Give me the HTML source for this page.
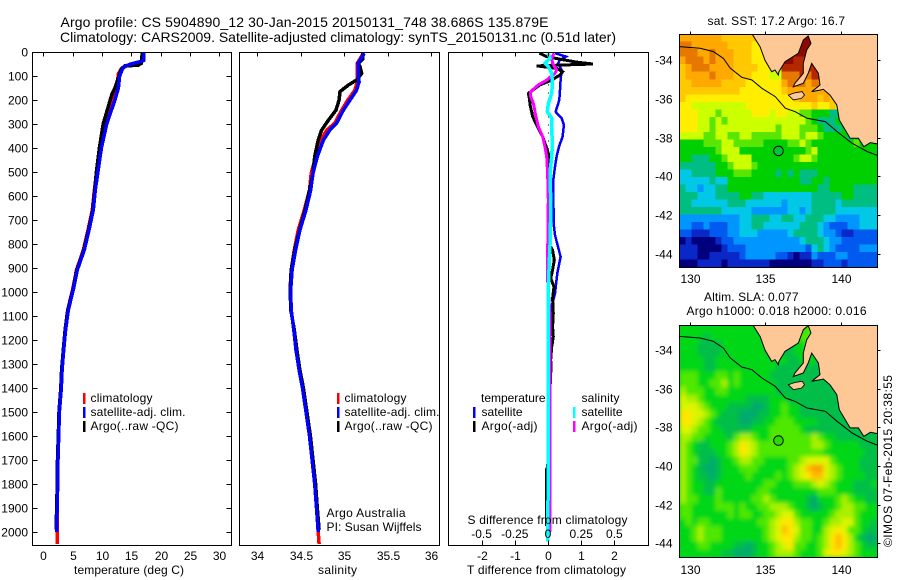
<!DOCTYPE html>
<html>
<head>
<meta charset="utf-8">
<title>Argo profile</title>
<style>
html,body{margin:0;padding:0;background:#fff;width:900px;height:580px;overflow:hidden}
svg{display:block}
text{font-family:"Liberation Sans",sans-serif;font-size:12px;fill:#000}
.title{font-size:14px}
.ln{fill:none;shape-rendering:crispEdges;stroke-linejoin:miter}
.ax{stroke:#000;stroke-width:1;shape-rendering:crispEdges;fill:none}
</style>
</head>
<body>
<svg id="fig" xmlns="http://www.w3.org/2000/svg" width="900" height="580" viewBox="0 0 900 580">
<defs>
<filter id="slaBlur" x="-5%" y="-5%" width="110%" height="110%"><feGaussianBlur stdDeviation="2.1"/></filter>
<clipPath id="clipMap1"><rect x="679.5" y="34.5" width="198" height="233"/></clipPath>
<clipPath id="clipMap2"><rect x="679.5" y="325.5" width="198" height="232"/></clipPath>
</defs>
<text class="title" x="60.5" y="27" textLength="488" lengthAdjust="spacing">Argo profile: CS 5904890_12 30-Jan-2015 20150131_748 38.686S 135.879E</text>
<text class="title" x="60" y="42" textLength="556" lengthAdjust="spacing">Climatology: CARS2009. Satellite-adjusted climatology: synTS_20150131.nc (0.51d later)</text>

<g id="panels"></g>
<g id="maps"></g>

<text x="74" y="574" textLength="110" lengthAdjust="spacing">temperature (deg C)</text>
<text x="318" y="574" textLength="39" lengthAdjust="spacing">salinity</text>
<text x="467" y="574" textLength="159" lengthAdjust="spacing">T difference from climatology</text>
<text x="467.5" y="524" textLength="160" lengthAdjust="spacing">S difference from climatology</text>

<g>
<rect x="83" y="393" width="2.5" height="11" fill="#f00"/>
<rect x="83" y="407" width="2.5" height="11" fill="#00f"/>
<rect x="83" y="421" width="2.5" height="11" fill="#000"/>
<text x="90.5" y="402" textLength="62" lengthAdjust="spacing">climatology</text>
<text x="90.5" y="416" textLength="95" lengthAdjust="spacing">satellite-adj. clim.</text>
<text x="90.5" y="430" textLength="88" lengthAdjust="spacing">Argo(..raw -QC)</text>
</g>
<g>
<rect x="337" y="393" width="2.5" height="11" fill="#f00"/>
<rect x="337" y="407" width="2.5" height="11" fill="#00f"/>
<rect x="337" y="421" width="2.5" height="11" fill="#000"/>
<text x="344.5" y="402" textLength="62" lengthAdjust="spacing">climatology</text>
<text x="344.5" y="416" textLength="95" lengthAdjust="spacing">satellite-adj. clim.</text>
<text x="344.5" y="430" textLength="88" lengthAdjust="spacing">Argo(..raw -QC)</text>
</g>
<text x="326.5" y="517" textLength="79" lengthAdjust="spacing">Argo Australia</text>
<text x="326.5" y="531" textLength="95" lengthAdjust="spacing">PI: Susan Wijffels</text>
<g>
<text x="481" y="402" textLength="64.5" lengthAdjust="spacing">temperature</text>
<rect x="473" y="407" width="2.5" height="11" fill="#00f"/>
<rect x="473" y="421" width="2.5" height="11" fill="#000"/>
<text x="481.5" y="416" textLength="41" lengthAdjust="spacing">satellite</text>
<text x="481.5" y="430" textLength="56" lengthAdjust="spacing">Argo(-adj)</text>
<text x="581.5" y="402" textLength="38" lengthAdjust="spacing">salinity</text>
<rect x="573" y="407" width="2.5" height="11" fill="#0ff"/>
<rect x="573" y="421" width="2.5" height="11" fill="#f0f"/>
<text x="581.5" y="416" textLength="41" lengthAdjust="spacing">satellite</text>
<text x="581.5" y="430" textLength="56" lengthAdjust="spacing">Argo(-adj)</text>
</g>

<text x="707.5" y="25" textLength="137.5" lengthAdjust="spacing">sat. SST: 17.2 Argo: 16.7</text>
<text x="704" y="301" textLength="94.5" lengthAdjust="spacing">Altim. SLA: 0.077</text>
<text x="686.5" y="315" textLength="180" lengthAdjust="spacing">Argo h1000: 0.018 h2000: 0.016</text>
<text transform="translate(892,547) rotate(-90)" x="0" y="0" textLength="172" lengthAdjust="spacing">©IMOS 07-Feb-2015 20:38:55</text>
</svg>
<script>
// ---------- Profile data ----------
const depthTicks = [0,100,200,300,400,500,600,700,800,900,1000,1100,1200,1300,1400,1500,1600,1700,1800,1900,2000];
const tempTicks = [0,5,10,15,20,25,30];
const salTicks = [34,34.5,35,35.5,36];
const tDiffTicks = [-2,-1,0,1,2];
const sDiffTickValues = [-0.5,-0.25,0,0.25,0.5];
const sDiffTickLabels = ['-0.5','-0.25','0','0.25','0.5'];

const tClimDepth = [5,40,50,60,70,90,150,200,250,300,400,500,575,658,742,825,908,992,1075,1158,1242,1325,1400,1500,1600,1700,1800,1900,2000,2050];
const tClimValue = [16.85,16.8,15.4,14,13.3,12.8,12.5,11.9,11.2,10.5,9.7,9.1,8.7,8.35,7.62,6.82,5.65,4.98,4.16,3.72,3.42,3.15,3.03,2.72,2.6,2.48,2.42,2.33,2.38,2.38];
const tArgoDepth = [5,47,55,58,70,100,150,175,200,250,300,400,500,575,658,742,825,908,992,1075,1158,1242,1325,1400,1500,1600,1700,1800,1900,1990];
const tArgoValue = [16.85,16.7,16.2,13.9,13.3,12.9,12.2,11.7,11.4,10.8,10.2,9.55,9.05,8.75,8.42,7.7,6.9,5.72,5.02,4.18,3.72,3.4,3.12,2.98,2.68,2.55,2.42,2.38,2.27,2.22];
const tSatDepth = [5,35,42,50,60,70,100,150,200,250,300,400,500,575,658,742,825,908,992,1075,1158,1242,1325,1400,1500,1600,1700,1800,1900,2000];
const tSatValue = [17.15,17.1,16.2,14.9,13.9,13.5,13,12.8,12.2,11.5,10.8,9.9,9.3,8.86,8.52,7.79,6.99,5.8,5.1,4.26,3.8,3.47,3.2,3.07,2.75,2.62,2.5,2.45,2.35,2.28];

const sClimDepth = [5,47,124,160,200,242,297,325,367,436,505,575,658,742,825,908,992,1075,1158,1242,1325,1400,1500,1600,1700,1800,1900,2000,2050];
const sClimValue = [35.22,35.15,35.15,35.12,35.04,34.97,34.89,34.8,34.73,34.67,34.62,34.6,34.54,34.47,34.425,34.39,34.376,34.39,34.42,34.445,34.48,34.52,34.56,34.6,34.63,34.66,34.68,34.7,34.71];
const sArgoDepth = [5,30,47,61,89,117,137,165,200,242,283,325,367,436,505,575,658,742,825,908,992,1075,1158,1242,1325,1400,1500,1600,1700,1800,1900,1990];
const sArgoValue = [35.21,35.21,35.16,35.18,35.2,35.14,35.05,34.95,34.94,34.905,34.82,34.74,34.7,34.66,34.64,34.6,34.55,34.485,34.43,34.39,34.378,34.385,34.425,34.455,34.49,34.53,34.57,34.61,34.64,34.67,34.69,34.71];
const sSatDepth = [5,47,89,124,160,200,242,297,325,367,436,505,575,658,742,825,908,992,1075,1158,1242,1325,1400,1500,1600,1700,1800,1900,2000];
const sSatValue = [35.23,35.16,35.16,35.17,35.14,35.065,34.99,34.91,34.835,34.76,34.69,34.64,34.614,34.56,34.49,34.44,34.4,34.384,34.39,34.42,34.445,34.48,34.52,34.56,34.6,34.63,34.66,34.68,34.7];

const dtSatDepth = [5,19,33,47,75,117,158,200,249,276,304,353,394,436,478,533,617,728,763,853,922,1006,1075,1144,1242,1500,2000];
const dtSatValue = [0.21,0.54,0.36,0.31,0.41,0.38,0.36,0.34,0.23,0.41,0.48,0.44,0.33,0.26,0.21,0.16,0.16,0.18,0.21,0.38,0.28,0.21,0.08,0.06,0.04,0.02,0];
const dtArgoDepth = [5,19,30,42,50,58,68,82,96,117,137,172,193,221,269,311,353,401,436,478,533,631,700,797,825,867,908,943,978,1026,1089,1144,1186,1228,1283,1311,1408,1433,1440,1730,1740,1975];
const dtArgoValue = [-0.26,-0.04,0.36,0.86,1.35,-0.34,0.26,0.44,0.36,0.11,-0.24,-0.59,-0.56,-0.54,-0.46,-0.32,-0.16,-0.04,0.04,0.01,0.01,0.11,0.05,0.01,0.14,0.19,0.14,0.08,0.18,0.14,0.16,0.14,0.16,0.11,0.08,0.09,0.06,0.06,0.03,-0.01,-0.05,-0.05];
const dsArgoDepth = [5,26,47,75,89,117,137,165,186,214,262,311,353,394,436,505,617,850,950,1100,2000];
const dsArgoValue = [0.045,0.028,0.035,0.065,0.053,-0.01,-0.073,-0.13,-0.13,-0.11,-0.093,-0.073,-0.04,-0.023,-0.01,-0.003,0.002,-0.003,-0.003,0.015,0.015];
const dsSatDepth = [5,26,47,61,89,130,172,214,249,276,325,381,436,505,617,763,970,1400,2040];
const dsSatValue = [0.003,0.015,-0.023,0.003,0.028,0.033,0.028,0.003,-0.005,0.028,0.028,0.033,0.028,0.015,0.02,0.018,0.003,0.002,-0.001];
const zeroLineValues = [0];

// ---------- Map data (lon/lat and gridded colour levels) ----------
const lonTicks = [130,135,140];
const latTicks = [-34,-36,-38,-40,-42,-44];
const floatLon = 135.879;
const floatLat = -38.686;
const coastLon = [134.0,134.17,134.66,134.99,135.43,135.65,135.87,135.91,136.31,137.19,137.52,137.85,138.03,137.75,137.52,137.52,136.97,136.86,137.52,137.85,138.08,138.52,138.63,138.08,138.63,138.85,139.29,139.74,139.91,140.62,141.17,141.53,141.97,142.46];
const coastLat = [-32.43,-32.69,-33.3,-34.0,-34.59,-34.5,-34.76,-34.59,-34.07,-33.64,-32.95,-32.74,-33.12,-33.47,-34.16,-34.67,-35.19,-35.37,-35.19,-34.67,-34.16,-34.67,-35.28,-35.62,-35.54,-35.5,-35.8,-36.31,-37.09,-38.03,-38.03,-38.47,-38.26,-38.33];
const islandLon = [136.53,136.97,137.45,137.6,137.4,136.86];
const islandLat = [-35.8,-35.68,-35.62,-35.8,-35.97,-36.05];
const isobathLon = [129.31,130.69,131.57,132.23,132.68,133.45,134.12,134.78,135.66,136.33,136.99,137.77,138.98,139.76,140.75,141.75,142.46];
const isobathLat = [-33.29,-33.38,-33.55,-33.9,-34.41,-34.88,-35.02,-35.45,-35.88,-36.48,-36.66,-37.0,-37.17,-37.69,-38.29,-38.72,-38.93];

const sstPalette = ['#00007f','#0a28c8','#005af0','#0096ff','#00c8e6','#00be82','#00d000','#5ae600','#ccff00','#ffee00','#ffc800','#ffa800','#e67800','#b42800','#8c0a00'];
const sstRows = [
"bbbbbbbaaaaaa9998888eeeeeee",
"ccbbbbbbaaaa99988888eeeeee",
"cccbbcbbbaaa999888eeeeeeee",
"bcccbcbbbaaa99988eedddddddd",
"abcccbbbbaaaa9988dddddddddd",
"abbbbcbbbaaa99988cccdcddcc",
"aabbbbbaaaa999999bcccbcccbb",
"aaaaaaaaaa9999999abbbbbbbbbba",
"a999999999999999999abbbabaa9",
"9988888888899999999999a99a8",
"99988878888899989988776665",
"9998878788888888888887655566",
"99988788888888887888777655566",
"888877887788777778887887666656",
"6666777887777766667787666666676",
"6666667888666666666667866666666",
"6655566788886666666788766666666",
"5555556678887666666666666666666",
"4455556667776666565655566666666",
"4444454466666666666655665666666",
"5443445566666666666666655666655",
"5554445555665544444444555556655",
"5544444455544444434444555545555",
"5555555444443333334434555544444",
"3333333333445554455445554433334",
"3322322233445544444455543222334",
"2211122233444333334555543321122",
"0100001223333333333345554332222",
"1110000122233333333332454322223",
"1110011111233333221011322233222",
"0001111011111110000000112221222"
];

const slaPalette = ['#00aa6e','#00be46','#00d714','#50e800','#aaf000','#dcf500','#ffe600','#ffbe00','#faa000'];
const slaRows = [
"222222222222221111112333111111111",
"222212222222222111123332111111111",
"222111122222222111122322111111111",
"222111122222222111122221111111111",
"222211222222222222112221111111111",
"222211222222222211111111111111111",
"333222332322222111111111111111111",
"333223342322222211111111111111111",
"433322332222222211111111111111111",
"544322222221111222111111111111111",
"555432221111001223221111111111111",
"665543211100011223221111111111111",
"665432111100112233322221111111111",
"554332211111222333332111111111111",
"443322221344322333333343221111111",
"432112223465433333333344322222111",
"432111223465433333333333222222211",
"433110122344332222334555532222111",
"432100122233322222345788543222111",
"432110122223222232345677543222211",
"432211222222223322233345432221112",
"432211322222233222222223332221111",
"433222322222334322222102223432211",
"332222333232233444322101223443322",
"332222223233223345532222234443222",
"232332222222233456643322344553221",
"223433322222223457653322456533211",
"223433322222223456643323467642100",
"222332222110122345633223467643211",
"222222211000122344432223566543222"
];

// ---------- Axis functions ----------
const SVGNS = 'http://www.w3.org/2000/svg';
const plotTop = 52.5, plotBottom = 545.5;
const yDepth = d => 52 + d * 0.24;
const xTemp = t => 43.3 + t * 5.87;
const xSal = s => 257.3 + (s - 34) * 87;
const xDT = t => 548 + t * 33.2;
const xDS = s => 548 + s * 132.8;
const xLon = lon => 689.7 + (lon - 130) * 15.1;
const yLat1 = lat => 60.3 + (-34 - lat) * 19.33;
const yLat2 = lat => 350 + (-34 - lat) * 19.33;
const mapLonMin = 129.31, mapLonMax = 142.42;
const map1LatTop = -32.65, map1LatBottom = -44.69;
const map2LatTop = -32.72, map2LatBottom = -44.71;

const panels = document.getElementById('panels');
const maps = document.getElementById('maps');
const mk = (tag, parent) => { const e = document.createElementNS(SVGNS, tag); parent.appendChild(e); return e; };
const pts = (xs, ys) => xs.map((v, i) => v.toFixed(1) + ',' + ys[i].toFixed(1)).join(' ');

function series(parent, name, depths, values, xf, color, width) {
  const el = mk('polyline', parent);
  
  
  el.setAttribute('class', 'ln');
  el.setAttribute('stroke', color);
  el.setAttribute('stroke-width', width);
  el.setAttribute('points', pts(values.map(xf), depths.map(yDepth)));
  return el;
}
function frame(parent, name, x0, x1, y0, y1) {
  const el = mk('rect', parent);
  
  
  el.setAttribute('class', 'ax');
  el.setAttribute('x', x0);
  el.setAttribute('y', y0);
  el.setAttribute('width', x1 - x0);
  el.setAttribute('height', y1 - y0);
}
function tick(parent, x1, y1, x2, y2) {
  const el = mk('line', parent);
  
  
  el.setAttribute('class', 'ax');
  el.setAttribute('x1', x1);
  el.setAttribute('y1', y1);
  el.setAttribute('x2', x2);
  el.setAttribute('y2', y2);
}
function label(parent, str, x, y, anchor) {
  const el = mk('text', parent);
  
  
  el.setAttribute('x', x);
  el.setAttribute('y', y);
  el.setAttribute('text-anchor', anchor);
  el.textContent = str;
}

// ---------- Temperature panel ----------
const p1 = mk('g', panels);


series(p1, 'temperature-climatology-line', tClimDepth, tClimValue, xTemp, '#f00', 3.5);
series(p1, 'temperature-argo-line', tArgoDepth, tArgoValue, xTemp, '#000', 3.5);
series(p1, 'temperature-satellite-line', tSatDepth, tSatValue, xTemp, '#00f', 3.5);
frame(p1, 'temperature-plot-frame', 32.5, 231.5, plotTop, plotBottom);
depthTicks.forEach(d => {
  const y = Math.round(yDepth(d)) + 0.5;
  if (d > 0) { tick(p1, 32.5, y, 37.5, y); tick(p1, 226.5, y, 231.5, y); }
  label(p1, String(d), 28, y + 4, 'end');
});
tempTicks.forEach(t => {
  const x = Math.round(xTemp(t)) + 0.5;
  tick(p1, x, plotTop, x, plotTop + 4);
  label(p1, String(t), x, 560, 'middle');
});

// ---------- Salinity panel ----------
const p2 = mk('g', panels);


series(p2, 'salinity-climatology-line', sClimDepth, sClimValue, xSal, '#f00', 3.5);
series(p2, 'salinity-argo-line', sArgoDepth, sArgoValue, xSal, '#000', 3.5);
series(p2, 'salinity-satellite-line', sSatDepth, sSatValue, xSal, '#00f', 3.5);
frame(p2, 'salinity-plot-frame', 239.5, 439.5, plotTop, plotBottom);
salTicks.forEach(s => {
  const x = Math.round(xSal(s)) + 0.5;
  tick(p2, x, plotTop, x, plotTop + 4);
  label(p2, String(s), x, 560, 'middle');
});

// ---------- Difference panel ----------
const p3 = mk('g', panels);


zeroLineValues.forEach(v => {
  const z = mk('line', p3);
  
  
  z.setAttribute('x1', xDT(v) + 0.5);
  z.setAttribute('x2', xDT(v) + 0.5);
  z.setAttribute('y1', plotTop);
  z.setAttribute('y2', plotBottom);
  z.setAttribute('stroke', '#000');
  z.setAttribute('stroke-dasharray', '1 7');
  z.setAttribute('shape-rendering', 'crispEdges');
});
series(p3, 't-diff-satellite-line', dtSatDepth, dtSatValue, xDT, '#00f', 2.5);
series(p3, 't-diff-argo-line', dtArgoDepth, dtArgoValue, xDT, '#000', 3);
series(p3, 's-diff-argo-line', dsArgoDepth, dsArgoValue, xDS, '#f0f', 3);
series(p3, 's-diff-satellite-line', dsSatDepth, dsSatValue, xDS, '#0ff', 3.5);
frame(p3, 'difference-plot-frame', 448.5, 648.5, plotTop, plotBottom);
tDiffTicks.forEach(t => {
  const x = Math.round(xDT(t)) + 0.5;
  tick(p3, x, plotTop, x, plotTop + 4);
  tick(p3, x, plotBottom - 5, x, plotBottom);
  label(p3, String(t), x, 560, 'middle');
});
sDiffTickValues.forEach((s, i) => {
  label(p3, sDiffTickLabels[i], xDS(s), 538, 'middle');
});

// ---------- Maps ----------
function drawMap(prefix, rows, palette, markerFill, yLat, latTop, latBottom, clipId, x0, x1, y0, y1, blur, labelY) {
  const g = mk('g', maps);
  
  
  const clip = mk('g', g);
  
  
  clip.setAttribute('clip-path', 'url(#' + clipId + ')');
  const base = mk('rect', clip);
  
  
  base.setAttribute('x', x0);
  base.setAttribute('y', y0);
  base.setAttribute('width', x1 - x0);
  base.setAttribute('height', y1 - y0);
  base.setAttribute('fill', palette[2]);
  const cells = mk('g', clip);
  
  
  cells.setAttribute('shape-rendering', 'crispEdges');
  if (blur) cells.setAttribute('filter', 'url(#slaBlur)');
  const nCols = 33, nRows = rows.length;
  const dLon = (mapLonMax - mapLonMin) / nCols, dLat = (latTop - latBottom) / nRows;
  rows.forEach((row, r) => {
    for (let c = 0; c < nCols; c++) {
      const ch = row[Math.min(c, row.length - 1)];
      const cell = mk('rect', cells);
      
      
      const cx0 = xLon(mapLonMin + c * dLon), cx1 = xLon(mapLonMin + (c + 1) * dLon);
      const cy0 = yLat(latTop - r * dLat), cy1 = yLat(latTop - (r + 1) * dLat);
      cell.setAttribute('x', cx0.toFixed(2));
      cell.setAttribute('y', cy0.toFixed(2));
      cell.setAttribute('width', (cx1 - cx0 + 0.5).toFixed(2));
      cell.setAttribute('height', (cy1 - cy0 + 0.5).toFixed(2));
      cell.setAttribute('fill', palette[parseInt(ch, 16)]);
    }
  });
  const land = mk('polygon', clip);
  
  
  land.setAttribute('fill', '#fec896');
  land.setAttribute('stroke', '#000');
  land.setAttribute('stroke-width', '1');
  land.setAttribute('points', pts(coastLon.concat([143, 143]).map(xLon), coastLat.concat([-38.33, -32.4]).map(yLat)));
  const island = mk('polygon', clip);
  
  
  island.setAttribute('fill', '#fec896');
  island.setAttribute('stroke', '#000');
  island.setAttribute('stroke-width', '0.8');
  island.setAttribute('points', pts(islandLon.map(xLon), islandLat.map(yLat)));
  const iso = mk('polyline', clip);
  
  
  iso.setAttribute('fill', 'none');
  iso.setAttribute('stroke', '#000');
  iso.setAttribute('stroke-width', '1');
  iso.setAttribute('points', pts(isobathLon.map(xLon), isobathLat.map(yLat)));
  const marker = mk('circle', clip);
  
  
  marker.setAttribute('cx', xLon(floatLon));
  marker.setAttribute('cy', yLat(floatLat));
  marker.setAttribute('r', 4.8);
  marker.setAttribute('fill', markerFill);
  marker.setAttribute('stroke', '#000');
  frame(g, prefix + '-map-frame', x0, x1, y0, y1);
  lonTicks.forEach(lon => {
    const x = Math.round(xLon(lon)) + 0.5;
    tick(g, x, y0 - 3, x, y0);
    label(g, String(lon), x, labelY, 'middle');
  });
  latTicks.forEach(lat => {
    const y = Math.round(yLat(lat)) + 0.5;
    tick(g, x1, y, x1 + 3, y);
    label(g, String(lat), 672.5, y + 4, 'end');
  });
}
drawMap('sst', sstRows, sstPalette, '#00c832', yLat1, map1LatTop, map1LatBottom, 'clipMap1', 679.5, 877.5, 34.5, 267.5, false, 283);
drawMap('sla', slaRows, slaPalette, '#28dc00', yLat2, map2LatTop, map2LatBottom, 'clipMap2', 679.5, 877.5, 325.5, 557.5, true, 574);
</script>
</body>
</html>
